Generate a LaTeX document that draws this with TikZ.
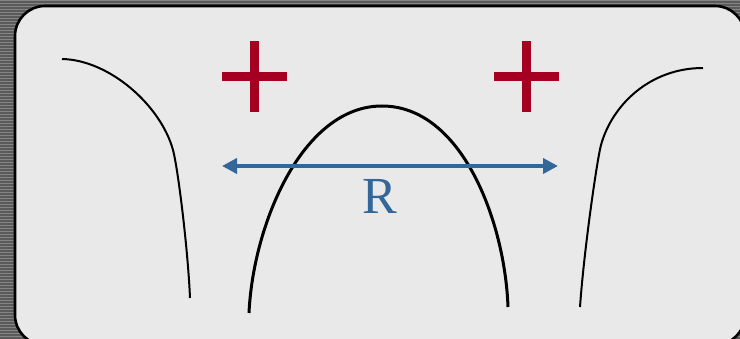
\documentclass[tikz,border=0pt]{standalone}
\usepackage{fontspec}
\setmainfont{Liberation Serif}
\usetikzlibrary{arrows.meta}
\definecolor{panel}{HTML}{E9E9E9}
\definecolor{plusred}{HTML}{A50021}
\definecolor{rblue}{HTML}{336699}
\definecolor{stripeA}{HTML}{5A5A5A}
\definecolor{stripeB}{HTML}{858585}
\tikzset{
  thincurve/.style={black, line width=2pt},
  archcurve/.style={black, line width=3pt},
  plusbar/.style={fill=plusred, draw=none},
  rarrow/.style={rblue, line width=4pt, {Triangle[length=15pt,width=15pt]}-{Triangle[length=15pt,width=15pt]}},
}
\begin{document}
\begin{tikzpicture}[x=1pt,y=-1pt]
\useasboundingbox (0,0) rectangle (740,339);
% striped background
\fill[stripeA] (0,0) rectangle (740,339);
\foreach \k in {0,...,113} {
  \fill[stripeB] (0,{3*\k}) rectangle (740,{3*\k+1.2});
}
% panel
\draw[fill=panel, line width=2.6pt, rounded corners=30pt] (15,6) rectangle (745,345);
% side curves
\draw[thincurve] (62,59) .. controls (110,60) and (161,106) .. (173,150)
  .. controls (178,168.5) and (188,250) .. (190,298);
\draw[thincurve] (703,68) .. controls (650,68) and (612,105) .. (601,145)
  .. controls (597,160) and (584,250) .. (580,307);
% central arch
\draw[archcurve] (249,313) .. controls (253,225) and (302,106) .. (382,106)
  .. controls (462,106) and (505,222) .. (508,307);
% plus signs
\fill[plusbar] (222,72.5) rectangle (287,81.5);
\fill[plusbar] (250,41) rectangle (259,112);
\fill[plusbar] (494,72.5) rectangle (559,81.5);
\fill[plusbar] (522,41) rectangle (531,112);
% R arrow
\coordinate (al) at (222,166);
\coordinate (ar) at (558,166);
\draw[rarrow] (al) -- (ar);
\node[text=rblue, font=\fontsize{52}{52}\selectfont, inner sep=0pt] (rlabel) at (380,196) {R};
\end{tikzpicture}
\end{document}
